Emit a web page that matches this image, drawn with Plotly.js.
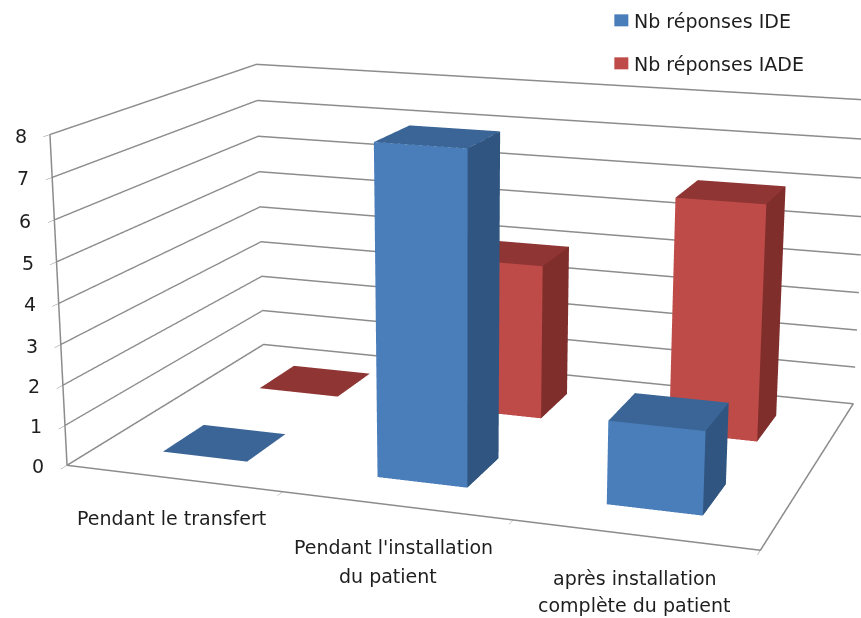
<!DOCTYPE html><html><head><meta charset="utf-8"><script src="https://cdn.plot.ly/plotly-3.0.1.min.js"></script>
<style>html,body{margin:0;padding:0;width:861px;height:618px;overflow:hidden;background:#fff}#plot{position:absolute}</style></head><body><div id="plot"></div>
<script>
const categoryLines=[["Pendant le transfert"],["Pendant l'installation","du patient"],["après installation","complète du patient"]];
const seriesNames=["Nb réponses IDE","Nb réponses IADE"];
const ideValues=[0,8,2];
const iadeValues=[0,4,6];
const zTicks=[0,1,2,3,4,5,6,7,8];
// Excel-like view: camera fitted to the reference
const eye={x:1.0427,y:-2.9838,z:0.7953},yaw=-0.328,pitch=0.2815,roll=0.0044,focal=2238.73,cx=495.16,cy=356.16;
const aspect={x:1,y:0.6674,z:0.4745};
const gap=0.3, rows=[[0.3,0.7],[1.3,1.7]];
const colors=[{front:'#4A7EBB',side:'#2F5580',top:'#3A6596'},{front:'#BE4B48',side:'#7F2E2C',top:'#8F3533'}];
const lineColor='#8c8c8c',textColor='#1e1e1e';
const H=Math.round(focal/1.2071),W=Math.ceil(2*Math.max(cx,861-cx))+4,left=cx-W/2,top0=cy-H/2;
const el=document.getElementById('plot');el.style.left=left+'px';el.style.top=top0+'px';el.style.width=W+'px';el.style.height=H+'px';
const fw=[Math.sin(yaw)*Math.cos(pitch),Math.cos(yaw)*Math.cos(pitch),-Math.sin(pitch)];
const rn=Math.hypot(fw[1],fw[0]),r=[fw[1]/rn,-fw[0]/rn,0];
const up0=[r[1]*fw[2]-r[2]*fw[1],r[2]*fw[0]-r[0]*fw[2],r[0]*fw[1]-r[1]*fw[0]];
const up=[0,1,2].map(a=>-r[a]*Math.sin(roll)+up0[a]*Math.cos(roll));
function boxes(values,row,col,name){const x=[],y=[],z=[],i=[],j=[],k=[],fc=[];
 values.forEach((val,c)=>{const xa=c+gap,xb=c+1-gap,ya=row[0],yb=row[1],n=x.length;
  [[xa,ya,0],[xb,ya,0],[xb,yb,0],[xa,yb,0],[xa,ya,val],[xb,ya,val],[xb,yb,val],[xa,yb,val]].forEach(t=>{x.push(t[0]);y.push(t[1]);z.push(t[2]);});
  const tri=(a,b,d,cl)=>{i.push(n+a);j.push(n+b);k.push(n+d);fc.push(cl);};
  tri(0,1,5,col.front);tri(0,5,4,col.front);tri(1,2,6,col.side);tri(1,6,5,col.side);tri(4,5,6,col.top);tri(4,6,7,col.top);
 });
 return {type:'mesh3d',name,x,y,z,i,j,k,facecolor:fc,flatshading:true,showlegend:false,showscale:false,hoverinfo:'skip',lighting:{ambient:1,diffuse:0,specular:0,roughness:1,fresnel:0}};}
const frame={type:'scatter3d',mode:'lines',showlegend:false,hoverinfo:'skip',line:{color:lineColor,width:3},
 x:[0,3,3,0,0,0],y:[0,0,2,2,0,0],z:[0,0,0,0,0,8]};
const axisCommon={showbackground:false,showspikes:false,zeroline:false,title:{text:''}};
const font={family:'DejaVu Sans',size:19,color:textColor};
const px=v=>(v-left)/W,py=v=>1-(v-top0)/H;
const catAnn=[];
const lineShift=[[[-2,-40]],[[-2,-41],[-8,-70]],[[0,-43],[0,-70]]];
categoryLines.forEach((ls,c)=>ls.forEach((t,n)=>catAnn.push({x:c+.5,y:0,z:0,text:t,showarrow:false,font,xshift:lineShift[c][n][0],yshift:lineShift[c][n][1]})));
const tickAnn=zTicks.map(t=>({x:0,y:0,z:t,text:String(t),showarrow:false,font,xshift:-29,yshift:-1}));
const layout={width:W,height:H,margin:{l:0,r:0,t:0,b:0},paper_bgcolor:'#fff',showlegend:false,
 shapes:colors.map((c,n)=>({type:'rect',xref:'paper',yref:'paper',x0:px(614),x1:px(628),y0:py(14+43*n),y1:py(26+43*n),fillcolor:c.front,line:{width:0}})),
 annotations:seriesNames.map((t,n)=>({xref:'paper',yref:'paper',x:px(632),y:py(21+43*n),xanchor:'left',yanchor:'middle',text:t,showarrow:false,font})),
 scene:{domain:{x:[0,1],y:[0,1]},aspectmode:'manual',aspectratio:aspect,
  camera:{eye,center:{x:eye.x+fw[0],y:eye.y+fw[1],z:eye.z+fw[2]},up:{x:up[0],y:up[1],z:up[2]},projection:{type:'perspective'}},
  xaxis:{...axisCommon,range:[0,3],showgrid:false,tickvals:[0,1,2,3],ticks:'outside',ticklen:4,tickcolor:lineColor,showticklabels:false},
  yaxis:{...axisCommon,range:[0,2],showgrid:false,showticklabels:false,ticks:''},
  zaxis:{...axisCommon,range:[0,8],showgrid:true,gridcolor:lineColor,gridwidth:3,tickvals:zTicks,ticks:'outside',ticklen:6,tickcolor:lineColor,showticklabels:false},
  annotations:[...catAnn,...tickAnn]
 }};
Plotly.newPlot(el,[boxes(ideValues,rows[0],colors[0],seriesNames[0]),boxes(iadeValues,rows[1],colors[1],seriesNames[1]),frame],layout,{displayModeBar:false});
</script></body></html>
